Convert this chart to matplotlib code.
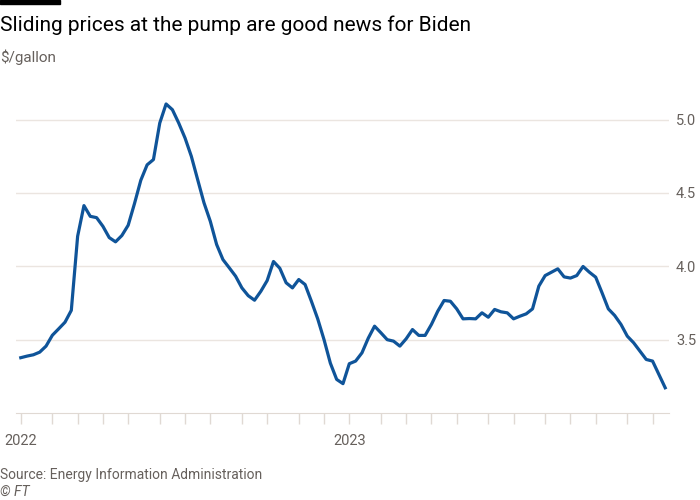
import matplotlib
matplotlib.use("Agg")
import matplotlib.pyplot as plt
import pandas as pd

plt.rcParams['font.family'] = ['Roboto', 'DejaVu Sans']

# weekly retail gasoline price, all grades ($/gallon), Mondays from 3 Jan 2022
start = "2022-01-03"
prices = [
    3.377, 3.388, 3.397, 3.415, 3.456, 3.53, 3.574, 3.619, 3.70, 4.205,
    4.414, 4.341, 4.332, 4.273, 4.196, 4.167, 4.21, 4.28, 4.428, 4.587,
    4.692, 4.728, 4.977, 5.107, 5.068, 4.977, 4.875, 4.75, 4.591, 4.433,
    4.307, 4.149, 4.046, 3.99, 3.933, 3.853, 3.80, 3.769, 3.83, 3.903,
    4.033, 3.987, 3.888, 3.853, 3.91, 3.876, 3.762, 3.642, 3.50, 3.34,
    3.229, 3.20, 3.336, 3.354, 3.41, 3.51, 3.592, 3.547, 3.50, 3.49,
    3.456, 3.506, 3.569, 3.529, 3.529, 3.604, 3.694, 3.767, 3.762, 3.71,
    3.642, 3.644, 3.642, 3.683, 3.653, 3.706, 3.69, 3.683, 3.642, 3.66,
    3.676, 3.71, 3.865, 3.937, 3.96, 3.983, 3.928, 3.92, 3.937, 3.999,
    3.96, 3.926, 3.82, 3.71, 3.665, 3.604, 3.524, 3.479, 3.422, 3.365,
    3.354, 3.263, 3.172,
]
yticks = [3.5, 4.0, 4.5, 5.0]

dates = pd.date_range(start, periods=len(prices), freq="7D")
# ticks on the first data week of every month
month_ticks = [d for d in dates if d.day <= 7]
tick_labels = [str(d.year) if d.month == 1 else "" for d in month_ticks]

fig = plt.figure(figsize=(7, 5), dpi=100)
ax = fig.add_axes([0.0229, 0.174, 0.9328, 0.66])

ax.plot(dates, prices, color="#0f5499", lw=2.3, solid_joinstyle="round", zorder=3)

week = pd.Timedelta(days=7)
ax.set_xlim(dates[0] - 0.75 * week, dates[-1] + 0.6 * week)
ax.set_ylim(3.0, 5.25)

ax.set_yticks(yticks)
ax.set_yticklabels([f"{v:.1f}" for v in yticks])
ax.yaxis.tick_right()
ax.tick_params(axis="y", length=0, pad=5, labelsize=10.5, labelcolor="#66605c")
ax.grid(axis="y", color="#ebe5e0", lw=1)

ax.set_xticks(month_ticks)
ax.set_xticklabels(tick_labels)
ax.tick_params(axis="x", length=8, width=1, color="#e0d9d3", pad=7,
               labelsize=10.5, labelcolor="#66605c")

for s in ["top", "left", "right"]:
    ax.spines[s].set_visible(False)
ax.spines["bottom"].set_color("#e0d9d3")
ax.set_axisbelow(True)

fig.add_artist(plt.Rectangle((0, 1 - 4 / 500), 60 / 700, 4 / 500,
                             transform=fig.transFigure, color="black"))
fig.text(0.0, 1 - 25 / 500, "Sliding prices at the pump are good news for Biden",
         fontsize=15, color="#000000", va="center", ha="left")
fig.text(0.0, 1 - 57 / 500, "$/gallon", fontsize=11, color="#66605c",
         va="center", ha="left")
fig.text(0.0, 1 - 475 / 500, "Source: Energy Information Administration",
         fontsize=10, color="#66605c", va="center", ha="left")
fig.text(0.0, 1 - 492 / 500, "© FT", fontsize=10, color="#66605c",
         va="center", ha="left", style="italic")

fig.savefig("out.png", dpi=100)
